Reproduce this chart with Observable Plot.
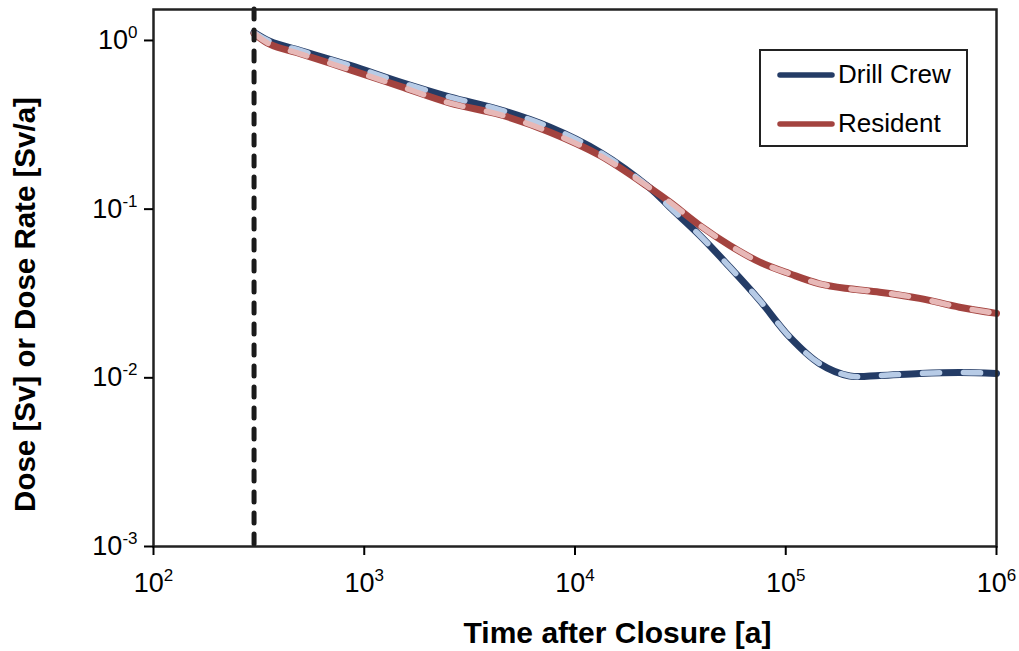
<!DOCTYPE html>
<html><head><meta charset="utf-8">
<script src="https://cdn.jsdelivr.net/npm/d3@7"></script>
<script src="https://cdn.jsdelivr.net/npm/@observablehq/plot@0.6"></script>
<style>
body{margin:0;background:#fff;font-family:"Liberation Sans",Arial,sans-serif;}
#wrap{position:relative;width:1019px;height:651px;}
#legend{position:absolute;left:759px;top:49px;width:205px;height:94px;border:2px solid #222;background:#fff;}
.li{position:absolute;left:16px;display:flex;align-items:center;font-size:26px;color:#000;}
.li svg{margin-right:3px;}
</style>
</head><body>
<div id="wrap"></div>
<script>
// time after closure [a]
const timeYears = [300, 358, 497, 858, 1481, 2556, 4411, 7612, 13140, 22670, 28200, 39130, 54290, 75320, 104500, 144900, 201100, 279000, 431700, 667600, 1000000];
// Drill Crew dose [Sv]
const drillCrew = [1.115, 0.986, 0.872, 0.711, 0.566, 0.461, 0.388, 0.306, 0.2177, 0.1335, 0.1027, 0.0698, 0.0453, 0.02876, 0.01743, 0.01213, 0.01026, 0.01033, 0.01062, 0.01076, 0.01062];
// Resident dose rate [Sv/a]
const resident = [1.10, 0.947, 0.834, 0.670, 0.534, 0.425, 0.363, 0.286, 0.208, 0.1335, 0.110, 0.080, 0.0609, 0.0485, 0.0414, 0.0361, 0.0337, 0.0322, 0.0296, 0.0262, 0.0241];
const closureLine = [300];
const xTicks = [1e2, 1e3, 1e4, 1e5, 1e6];
const yTicks = [1e-3, 1e-2, 1e-1, 1e0];
const seriesNames = ["Drill Crew", "Resident"];
const seriesColors = ["#243c66", "#a3433f"];
const overlayColors = ["#b7cbe6", "#e7b8b7"];
const xTitle = "Time after Closure [a]";
const yTitle = "Dose [Sv] or Dose Rate [Sv/a]";

const dc = timeYears.map((t, i) => ({t, v: drillCrew[i]}));
const rs = timeYears.map((t, i) => ({t, v: resident[i]}));

const expFmt = d => "10^" + Math.round(Math.log10(d));

const chart = Plot.plot({
  width: 1019, height: 651,
  marginLeft: 153, marginRight: 23, marginTop: 9, marginBottom: 105,
  style: {fontFamily: "'Liberation Sans', Arial, sans-serif", background: "#fff", color: "#000"},
  x: {type: "log", domain: [100, 1e6]},
  y: {type: "log", domain: [1e-3, 1.526]},
  marks: [
    Plot.line(dc, {x: "t", y: "v", stroke: seriesColors[0], strokeWidth: 7, curve: "catmull-rom"}),
    Plot.line(rs, {x: "t", y: "v", stroke: seriesColors[1], strokeWidth: 7, curve: "catmull-rom"}),
    Plot.line(dc, {x: "t", y: "v", stroke: overlayColors[0], strokeWidth: 5.5, strokeDasharray: "17,24", strokeLinecap: "round", curve: "catmull-rom"}),
    Plot.line(rs, {x: "t", y: "v", stroke: overlayColors[1], strokeWidth: 5.5, strokeDasharray: "17,24", strokeLinecap: "round", curve: "catmull-rom"}),
    Plot.ruleX(closureLine, {stroke: "#1a1a1a", strokeWidth: 5, strokeDasharray: "10,11", strokeLinecap: "round"}),
    Plot.frame({stroke: "#222", strokeWidth: 2.5}),
    Plot.axisX({ticks: xTicks, tickFormat: expFmt, tickSize: 9, tickPadding: 17, fontSize: 27, strokeWidth: 2, label: null}),
    Plot.axisY({ticks: yTicks, tickFormat: expFmt, tickSize: 9, tickPadding: 7, fontSize: 27, strokeWidth: 2, label: null})
  ]
});

// render exponents as superscripts
chart.querySelectorAll("text").forEach(el => {
  const m = /^(\d+)\^(-?\d+)$/.exec(el.textContent);
  if (!m) return;
  el.setAttribute("font-size", "27");
  el.style.fill = "#000";
  el.textContent = m[1];
  const ts = document.createElementNS("http://www.w3.org/2000/svg", "tspan");
  ts.setAttribute("dy", "-11");
  ts.setAttribute("font-size", "17");
  ts.textContent = m[2];
  el.appendChild(ts);
});

// axis titles
const svg = d3.select(chart);
svg.append("text")
  .attr("x", 617.5).attr("y", 643)
  .attr("text-anchor", "middle")
  .style("font-size", "30px").style("font-weight", "bold")
  .attr("fill", "#000")
  .text(xTitle);
svg.append("text")
  .attr("transform", "translate(35,304.5) rotate(-90)")
  .attr("text-anchor", "middle")
  .style("font-size", "29.5px").style("font-weight", "bold")
  .attr("fill", "#000")
  .text(yTitle);

const wrap = document.getElementById("wrap");
wrap.appendChild(chart);

// legend
const leg = document.createElement("div");
leg.id = "legend";
seriesNames.forEach((name, i) => {
  const row = document.createElement("div");
  row.className = "li";
  row.style.top = (i === 0 ? 8 : 57) + "px";
  row.innerHTML = `<svg width="58" height="10"><line x1="3" y1="5" x2="55" y2="5" stroke="${seriesColors[i]}" stroke-width="5.5" stroke-linecap="round"/></svg><span>${name}</span>`;
  leg.appendChild(row);
});
wrap.appendChild(leg);
</script>
</body></html>
